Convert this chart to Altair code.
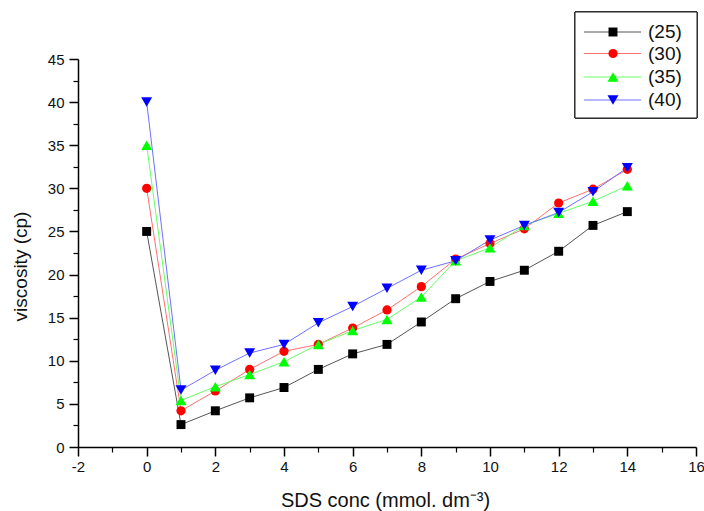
import altair as alt
import pandas as pd

# ---- data ----
conc = list(range(15))
v25 = [25.0, 2.6, 4.2, 5.7, 6.9, 9.0, 10.8, 11.9, 14.5, 17.2, 19.2, 20.5, 22.7, 25.7, 27.3]
v30 = [30.0, 4.2, 6.5, 9.0, 11.1, 11.9, 13.8, 15.9, 18.6, 21.8, 23.6, 25.3, 28.3, 29.9, 32.2]
v35 = [35.0, 5.4, 7.0, 8.4, 9.9, 11.9, 13.5, 14.8, 17.4, 21.6, 23.1, 25.7, 27.1, 28.5, 30.3]
v40 = [40.0, 6.6, 8.9, 10.9, 11.9, 14.4, 16.3, 18.4, 20.5, 21.6, 24.0, 25.7, 27.2, 29.6, 32.4]
series = ["(25)", "(30)", "(35)", "(40)"]
values = [v25, v30, v35, v40]

x_major = list(range(-2, 17, 2))
x_minor = list(range(-1, 16, 2))
y_major = list(range(0, 46, 5))
y_minor = [2.5 + 5 * i for i in range(9)]

point_colors = ["#000000", "#ff0000", "#00ff00", "#0000ff"]
line_colors = ["#555555", "#ff7070", "#66ff66", "#7070ff"]
shapes = ["square", "circle", "triangle-up", "triangle-down"]
sizes = [80, 85, 120, 120]

rows = []
for name, vals in zip(series, values):
    for c, v in zip(conc, vals):
        rows.append({"conc": c, "visc": v, "series": name})
df = pd.DataFrame(rows)

FONT = "Liberation Sans"
W, H = 618, 388
xscale = alt.Scale(domain=[-2, 16], nice=False, zero=False)
yscale = alt.Scale(domain=[0, 45], nice=False, zero=False)

major_x_axis = alt.Axis(values=x_major, title="SDS conc (mmol. dm\u207b\u00b3)", grid=False,
                        domainColor="black", domainWidth=1.5, tickColor="black", tickWidth=1.5,
                        tickSize=9, labelFont=FONT, labelFontSize=15, labelColor="#111",
                        labelPadding=3, titleFont=FONT, titleFontSize=20, titleFontWeight="normal",
                        titleColor="#111", titleX=W / 2 - 2, titleY=53, titleBaseline="middle",
                        titleAlign="center", orient="bottom", labelFlush=False,
                        labelExpr="'' + datum.value")
major_y_axis = alt.Axis(values=y_major, title="viscosity (cp)", grid=False,
                        domainColor="black", domainWidth=1.5, tickColor="black", tickWidth=1.5,
                        tickSize=9, labelFont=FONT, labelFontSize=15, labelColor="#111",
                        labelPadding=5, titleFont=FONT, titleFontSize=19, titleFontWeight="normal",
                        titleColor="#111", titleX=-58, titleY=207, titleBaseline="middle",
                        titleAlign="center", titleAngle=270, orient="left", labelFlush=False)
minor_x_axis = alt.Axis(values=x_minor, title=None, labels=False, grid=False, domain=False,
                        tickColor="black", tickWidth=1.2, tickSize=5, orient="bottom")
minor_y_axis = alt.Axis(values=y_minor, title=None, labels=False, grid=False, domain=False,
                        tickColor="black", tickWidth=1.2, tickSize=5, orient="left")

layers = []
# invisible layers carrying the axes
layers.append(alt.Chart(df).mark_point(opacity=0).encode(
    x=alt.X("conc:Q", scale=xscale, axis=minor_x_axis),
    y=alt.Y("visc:Q", scale=yscale, axis=minor_y_axis)))
layers.append(alt.Chart(df).mark_point(opacity=0).encode(
    x=alt.X("conc:Q", scale=xscale, axis=major_x_axis),
    y=alt.Y("visc:Q", scale=yscale, axis=major_y_axis)))

for i, name in enumerate(series):
    sub = df[df.series == name]
    layers.append(alt.Chart(sub).mark_line(color=line_colors[i], strokeWidth=1).encode(
        x=alt.X("conc:Q", scale=xscale, axis=None),
        y=alt.Y("visc:Q", scale=yscale, axis=None)))
for i, name in enumerate(series):
    sub = df[df.series == name]
    layers.append(alt.Chart(sub).mark_point(shape=shapes[i], filled=True, opacity=1,
                                            color=point_colors[i], size=sizes[i]).encode(
        x=alt.X("conc:Q", scale=xscale, axis=None),
        y=alt.Y("visc:Q", scale=yscale, axis=None)))

# ---- legend (drawn manually so that line passes through marker) ----
leg_df = pd.DataFrame({"series": series})
layers.append(alt.Chart(leg_df).mark_rect(fill="white", stroke="#222", strokeWidth=1).encode(
    x=alt.value(497), x2=alt.value(619), y=alt.value(-47), y2=alt.value(59)))
leg_y = [-27, -5.5, 18, 41]
for i, name in enumerate(series):
    one = leg_df[leg_df.series == name]
    layers.append(alt.Chart(one).mark_rule(color=line_colors[i], strokeWidth=1).encode(
        x=alt.value(506), x2=alt.value(563), y=alt.value(leg_y[i])))
    layers.append(alt.Chart(one).mark_point(shape=shapes[i], filled=True, opacity=1,
                                            color=point_colors[i], size=sizes[i]).encode(
        x=alt.value(535), y=alt.value(leg_y[i])))
    layers.append(alt.Chart(one).mark_text(align="left", baseline="middle", font=FONT,
                                           fontSize=19, color="#111").encode(
        x=alt.value(570), y=alt.value(leg_y[i]), text="series:N"))

chart = alt.layer(*layers).resolve_axis(x="independent", y="independent").properties(
    width=W, height=H,
    autosize=alt.AutoSizeParams(type="none"),
    padding={"left": 78, "top": 59, "right": 8, "bottom": 64},
    background="white",
).configure_view(stroke=None)

chart.save("out.html", embed_options={"renderer": "svg", "actions": False})
